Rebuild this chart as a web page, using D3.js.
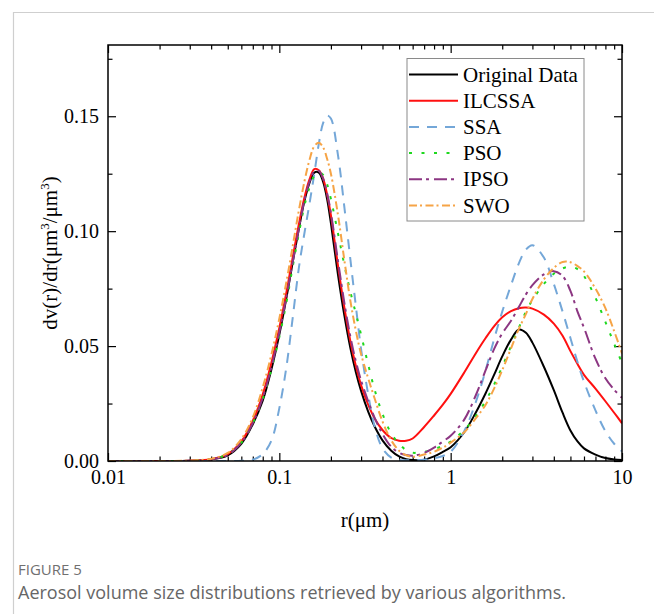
<!DOCTYPE html>
<html>
<head>
<meta charset="utf-8">
<script src="https://cdnjs.cloudflare.com/ajax/libs/d3/7.8.5/d3.min.js"></script>
<style>
  html, body { margin: 0; padding: 0; background: #fff; }
  svg { display: block; }
  .axis text { font-family: "Liberation Serif", "Times New Roman", serif; font-size: 20px; fill: #000; }
  .axis line { stroke: #000; stroke-width: 1.2px; }
</style>
</head>
<body>
<div id="chart"></div>
<script>
// radius grid (um) shared by all series
const radius = [0.01, 0.02, 0.03, 0.04, 0.05, 0.06, 0.07, 0.08, 0.09, 0.1,
  0.11, 0.12, 0.13, 0.14, 0.15, 0.16, 0.17, 0.18, 0.19, 0.2,
  0.22, 0.24, 0.26, 0.28, 0.3, 0.33, 0.36, 0.4, 0.45, 0.5, 0.55, 0.6,
  0.7, 0.8, 0.9, 1.0, 1.2, 1.4, 1.6, 1.8, 2.0, 2.25, 2.5, 2.75, 3.0,
  3.5, 4.0, 4.5, 5.0, 5.5, 6, 7, 8, 9, 10];

const originalData = [0, 0, 0.0001, 0.0007, 0.0025, 0.0075, 0.0160, 0.0262, 0.0400, 0.0550,
  0.0710, 0.0870, 0.1010, 0.1130, 0.1210, 0.1255, 0.1255, 0.1215, 0.1140, 0.1035,
  0.0810, 0.0630, 0.0490, 0.0385, 0.0305, 0.0215, 0.0150, 0.0090, 0.0045, 0.0020, 0.0008, 0.0004,
  0.0006, 0.0020, 0.0040, 0.0060, 0.0125, 0.0210, 0.0295, 0.0378, 0.0455, 0.0528, 0.0572, 0.0558, 0.0515,
  0.0410, 0.0308, 0.0210, 0.0133, 0.0085, 0.0055, 0.0028, 0.0013, 0.0007, 0.0004];

const ilcssa = [0, 0, 0.0001, 0.0008, 0.0030, 0.0085, 0.0175, 0.0290, 0.0430, 0.0580,
  0.0735, 0.0890, 0.1030, 0.1145, 0.1225, 0.1270, 0.1265, 0.1230, 0.1160, 0.1070,
  0.0850, 0.0665, 0.0520, 0.0412, 0.0330, 0.0245, 0.0185, 0.0135, 0.0100, 0.0088, 0.0088, 0.0098,
  0.0148, 0.0198, 0.0245, 0.0292, 0.0385, 0.0468, 0.0535, 0.0588, 0.0625, 0.0652, 0.0665, 0.0668, 0.0663,
  0.0637, 0.0598, 0.0545, 0.0478, 0.0422, 0.0375, 0.0315, 0.0260, 0.0210, 0.0164];

const ssa = [0, 0, 0, 0, 0, 0.0001, 0.0006, 0.0030, 0.0090, 0.0230,
  0.0410, 0.0630, 0.0840, 0.0990, 0.1120, 0.1250, 0.1380, 0.1470, 0.1503, 0.1490,
  0.1330, 0.1100, 0.0875, 0.0670, 0.0487, 0.0290, 0.0150, 0.0055, 0.0015, 0.0005, 0.0003, 0.0003,
  0.0006, 0.0012, 0.0022, 0.0040, 0.0130, 0.0255, 0.0395, 0.0535, 0.0650, 0.0765, 0.0860, 0.0920, 0.0939,
  0.0885, 0.0770, 0.0650, 0.0535, 0.0430, 0.0345, 0.0220, 0.0130, 0.0075, 0.0042];

const pso = [0, 0, 0.0001, 0.0008, 0.0030, 0.0080, 0.0165, 0.0270, 0.0400, 0.0540,
  0.0690, 0.0850, 0.0990, 0.1110, 0.1190, 0.1240, 0.1255, 0.1245, 0.1205, 0.1140,
  0.0990, 0.0850, 0.0735, 0.0640, 0.0550, 0.0420, 0.0310, 0.0205, 0.0120, 0.0075, 0.0047, 0.0036,
  0.0040, 0.0052, 0.0066, 0.0085, 0.0135, 0.0195, 0.0262, 0.0335, 0.0410, 0.0500, 0.0580, 0.0650, 0.0700,
  0.0770, 0.0815, 0.0838, 0.0845, 0.0835, 0.0805, 0.0710, 0.0605, 0.0510, 0.0426];

const ipso = [0, 0, 0.0001, 0.0007, 0.0027, 0.0080, 0.0165, 0.0275, 0.0410, 0.0560,
  0.0715, 0.0870, 0.1010, 0.1135, 0.1215, 0.1260, 0.1262, 0.1230, 0.1165, 0.1080,
  0.0870, 0.0685, 0.0540, 0.0432, 0.0350, 0.0260, 0.0188, 0.0118, 0.0062, 0.0036, 0.0026, 0.0023,
  0.0035, 0.0058, 0.0085, 0.0110, 0.0180, 0.0285, 0.0395, 0.0490, 0.0555, 0.0610, 0.0670, 0.0725, 0.0765,
  0.0812, 0.0826, 0.0805, 0.0740, 0.0650, 0.0580, 0.0445, 0.0360, 0.0310, 0.0275];

const swo = [0, 0, 0.0002, 0.0010, 0.0035, 0.0095, 0.0190, 0.0320, 0.0465, 0.0620,
  0.0780, 0.0940, 0.1090, 0.1215, 0.1310, 0.1370, 0.1385, 0.1365, 0.1315, 0.1250,
  0.1070, 0.0870, 0.0695, 0.0565, 0.0465, 0.0360, 0.0272, 0.0172, 0.0090, 0.0045, 0.0025, 0.0018,
  0.0028, 0.0040, 0.0058, 0.0080, 0.0125, 0.0185, 0.0245, 0.0318, 0.0395, 0.0490, 0.0575, 0.0640, 0.0705,
  0.0790, 0.0840, 0.0866, 0.0865, 0.0848, 0.0825, 0.0750, 0.0665, 0.0565, 0.0468];

const seriesNames = ["Original Data", "ILCSSA", "SSA", "PSO", "IPSO", "SWO"];
const seriesValues = [originalData, ilcssa, ssa, pso, ipso, swo];

const xMajorTicks = [0.01, 0.1, 1, 10];
const xTickLabels = ["0.01", "0.1", "1", "10"];
const xMinorTicks = [0.02, 0.03, 0.04, 0.05, 0.06, 0.07, 0.08, 0.09,
  0.2, 0.3, 0.4, 0.5, 0.6, 0.7, 0.8, 0.9,
  2, 3, 4, 5, 6, 7, 8, 9];
const yMajorTicks = [0, 0.05, 0.10, 0.15];
const yMinorTicks = [0.025, 0.075, 0.125, 0.175];

// line styles per series
const styles = [
  { color: "#000000", dash: null },
  { color: "#ff1010", dash: null },
  { color: "#74a7d8", dash: "10,8" },
  { color: "#1ed81e", dash: "3,9.5" },
  { color: "#8c3682", dash: "13,4,3,5" },
  { color: "#f6a446", dash: "8,3,2,3.5" }
];

const W = 654, H = 614;
const plot = { left: 108, top: 45, right: 622, bottom: 461 };

const svg = d3.select("#chart").append("svg")
  .attr("width", W)
  .attr("height", H);

svg.append("rect").attr("width", W).attr("height", H).attr("fill", "#fff");

// card border (top and left)
svg.append("path")
  .attr("d", "M13.5," + H + "V12.5H" + W)
  .attr("fill", "none")
  .attr("stroke", "#cfcfcf")
  .attr("stroke-width", 1.2);

const x = d3.scaleLog().domain([0.01, 10]).range([plot.left, plot.right]);
const y = d3.scaleLinear().domain([0, 0.181]).range([plot.bottom, plot.top]);

svg.append("defs").append("clipPath")
  .attr("id", "plot-clip")
  .append("rect")
  .attr("x", plot.left)
  .attr("y", plot.top - 2)
  .attr("width", plot.right - plot.left)
  .attr("height", plot.bottom - plot.top + 2);

// axes: majors with labels, minors shorter, all ticks inward
function addAxis(axis, transform) {
  const g = svg.append("g").attr("class", "axis").attr("transform", transform).call(axis);
  g.select(".domain").remove();
  return g;
}

addAxis(d3.axisBottom(x).tickValues(xMajorTicks).tickSize(-8).tickPadding(9)
  .tickFormat((d, i) => xTickLabels[i]), "translate(0," + plot.bottom + ")");
addAxis(d3.axisBottom(x).tickValues(xMinorTicks).tickSize(-4.5).tickFormat(""),
  "translate(0," + plot.bottom + ")");
addAxis(d3.axisTop(x).tickValues(xMajorTicks).tickSize(-8).tickFormat(""),
  "translate(0," + plot.top + ")");
addAxis(d3.axisTop(x).tickValues(xMinorTicks).tickSize(-4.5).tickFormat(""),
  "translate(0," + plot.top + ")");

addAxis(d3.axisLeft(y).tickValues(yMajorTicks).tickSize(-8).tickPadding(9)
  .tickFormat(d3.format(".2f")), "translate(" + plot.left + ",0)");
addAxis(d3.axisLeft(y).tickValues(yMinorTicks).tickSize(-4.5).tickFormat(""),
  "translate(" + plot.left + ",0)");
addAxis(d3.axisRight(y).tickValues(yMajorTicks).tickSize(-8).tickFormat(""),
  "translate(" + plot.right + ",0)");
addAxis(d3.axisRight(y).tickValues(yMinorTicks).tickSize(-4.5).tickFormat(""),
  "translate(" + plot.right + ",0)");

// curves
const line = d3.line()
  .x(d => x(d[0]))
  .y(d => y(d[1]))
  .curve(d3.curveCatmullRom.alpha(0.5));

const curves = svg.append("g").attr("clip-path", "url(#plot-clip)");
seriesValues.forEach((vals, i) => {
  curves.append("path")
    .datum(radius.map((r, k) => [r, vals[k]]))
    .attr("d", line)
    .attr("fill", "none")
    .attr("stroke", styles[i].color)
    .attr("stroke-width", 2)
    .attr("stroke-dasharray", styles[i].dash);
});

// frame
svg.append("rect")
  .attr("x", plot.left)
  .attr("y", plot.top)
  .attr("width", plot.right - plot.left)
  .attr("height", plot.bottom - plot.top)
  .attr("fill", "none")
  .attr("stroke", "#000")
  .attr("stroke-width", 1.5);

// legend
const legend = svg.append("g").attr("transform", "translate(407,58.5)");
legend.append("rect")
  .attr("width", 177)
  .attr("height", 162.5)
  .attr("fill", "#fff")
  .attr("stroke", "#8a8a8a")
  .attr("stroke-width", 1);

seriesNames.forEach((name, i) => {
  const row = legend.append("g").attr("transform", "translate(0," + (16 + i * 26.2) + ")");
  row.append("line")
    .attr("x1", 2).attr("x2", 51)
    .attr("stroke", styles[i].color)
    .attr("stroke-width", 2)
    .attr("stroke-dasharray", styles[i].dash);
  row.append("text")
    .attr("x", 56)
    .attr("y", 7)
    .attr("font-family", "Liberation Serif, Times New Roman, serif")
    .attr("font-size", 21)
    .text(name);
});

// axis titles
const yTitle = svg.append("text")
  .attr("transform", "translate(57," + ((plot.top + plot.bottom) / 2) + ") rotate(-90)")
  .attr("text-anchor", "middle")
  .attr("font-family", "Liberation Serif, Times New Roman, serif")
  .attr("font-size", 21);
yTitle.append("tspan").text("dv(r)/dr(\u03bcm");
yTitle.append("tspan").attr("dy", -8).attr("font-size", 13).text("3");
yTitle.append("tspan").attr("dy", 8).text("/\u03bcm");
yTitle.append("tspan").attr("dy", -8).attr("font-size", 13).text("3");
yTitle.append("tspan").attr("dy", 8).text(")");

svg.append("text")
  .attr("x", (plot.left + plot.right) / 2)
  .attr("y", 527)
  .attr("text-anchor", "middle")
  .attr("font-family", "Liberation Serif, Times New Roman, serif")
  .attr("font-size", 21)
  .text("r(\u03bcm)");

// caption
svg.append("text")
  .attr("x", 18)
  .attr("y", 575)
  .attr("font-family", "Open Sans, Noto Sans, sans-serif")
  .attr("font-size", 15)
  .attr("fill", "#707070")
  .text("FIGURE 5");

svg.append("text")
  .attr("x", 18)
  .attr("y", 599)
  .attr("font-family", "Open Sans, Noto Sans, sans-serif")
  .attr("font-size", 18)
  .attr("fill", "#666")
  .text("Aerosol volume size distributions retrieved by various algorithms.");
</script>
</body>
</html>
